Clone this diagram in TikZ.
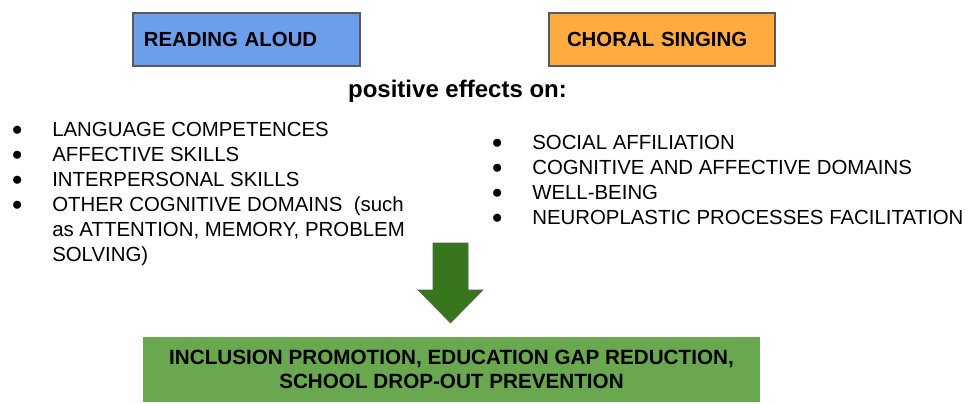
\documentclass[tikz,border=0pt]{standalone}
\usepackage{fontspec}
\setmainfont{Liberation Sans}
\definecolor{readblue}{HTML}{6D9EEB}
\definecolor{choralorange}{HTML}{FFAB40}
\definecolor{outcomegreen}{HTML}{6AA84F}
\definecolor{arrowgreen}{HTML}{38761D}
\definecolor{boxedge}{HTML}{595959}
\tikzset{
  titlebox/.style={draw=boxedge, line width=1.1pt, minimum height=39.75pt,
    align=left, font=\fontsize{15.3}{18}\selectfont\bfseries},
  effectlist/.style={anchor=north west, inner sep=0pt, align=left,
    font=\fontsize{15.3}{18.75}\selectfont},
}
\newcommand{\itembullet}{\llap{\raisebox{0.6pt}{\fontsize{14}{16}\selectfont ●}\hspace{22pt}}}
\begin{document}
\begin{tikzpicture}[x=0.75pt, y=-0.75pt]
    % canvas: 973 x 403 px, y runs downwards
    \useasboundingbox (0,0) rectangle (973,403);
    % the two activities
    \node[titlebox, fill=readblue, inner xsep=8pt, text width=154pt] (reading) at (246.5,39.5) {READING ALOUD};
    \node[titlebox, fill=choralorange, inner xsep=13.5pt, text width=142.5pt] (choral) at (662,39.5) {CHORAL SINGING};
    \node[anchor=base, font=\fontsize{18}{22}\selectfont\bfseries] (effects) at (457.5,98) {positive effects on:};
    % effects of reading aloud (left) and of choral singing (right)
    \node[effectlist] (readlist) at (52,122) {%
      \itembullet LANGUAGE COMPETENCES\\
      \itembullet AFFECTIVE SKILLS\\
      \itembullet INTERPERSONAL SKILLS\\
      \itembullet OTHER COGNITIVE DOMAINS\ \ (such\\
      as ATTENTION, MEMORY, PROBLEM\\
      SOLVING)};
    \node[effectlist] (choralist) at (532,135) {%
      \itembullet SOCIAL AFFILIATION\\
      \itembullet COGNITIVE AND AFFECTIVE DOMAINS\\
      \itembullet WELL-BEING\\
      \itembullet NEUROPLASTIC PROCESSES FACILITATION};
    % outcome
    \node[fill=outcomegreen, minimum width=462.75pt, minimum height=48.75pt, inner sep=0pt,
          align=center, font=\fontsize{15.5}{18}\selectfont\bfseries] (outcome) at (451.5,369.5)
          {INCLUSION PROMOTION, EDUCATION GAP REDUCTION,\\SCHOOL DROP-OUT PREVENTION};
    % big block arrow down to the outcome box
    \coordinate (tip) at (450.5,323);
    \draw[draw=gray!70!black, line width=0.4pt, fill=arrowgreen]
      (433,243) -- (468,243) -- (468,290) -- (483,290) -- (tip) -- (418,290) -- (433,290) -- cycle;
\end{tikzpicture}
\end{document}
